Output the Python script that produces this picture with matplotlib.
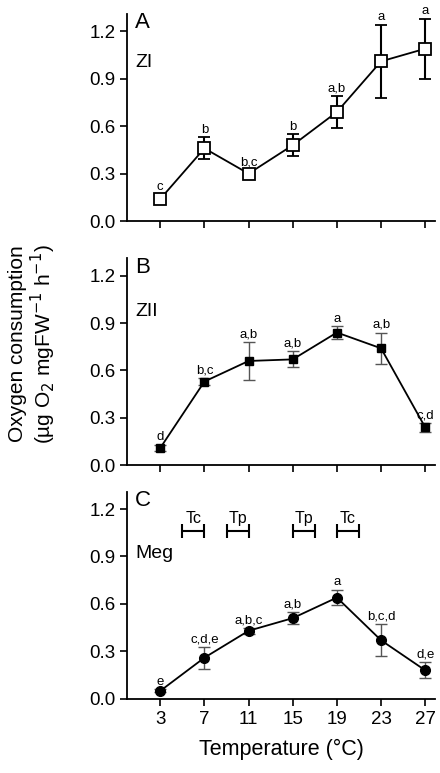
import matplotlib
matplotlib.use("Agg")
import matplotlib.pyplot as plt

plt.rcParams['font.family'] = ['Liberation Sans', 'DejaVu Sans']

temps = [3, 7, 11, 15, 19, 23, 27]

zi_mean = [0.14, 0.46, 0.30, 0.48, 0.69, 1.01, 1.09]
zi_err = [0.03, 0.07, 0.02, 0.07, 0.10, 0.23, 0.19]
zi_lab = ["c", "b", "b,c", "b", "a,b", "a", "a"]

zii_mean = [0.11, 0.53, 0.66, 0.67, 0.84, 0.74, 0.24]
zii_err = [0.02, 0.02, 0.12, 0.05, 0.04, 0.10, 0.03]
zii_lab = ["d", "b,c", "a,b", "a,b", "a", "a,b", "c,d"]

meg_mean = [0.05, 0.26, 0.43, 0.51, 0.64, 0.37, 0.18]
meg_err = [0.01, 0.07, 0.02, 0.04, 0.05, 0.10, 0.05]
meg_lab = ["e", "c,d,e", "a,b,c", "a,b", "a", "b,c,d", "d,e"]

ranges = [(5, 7, "Tc"), (9, 11, "Tp"), (15, 17, "Tp"), (19, 21, "Tc")]

fig = plt.figure(figsize=(4.4, 7.73), dpi=100)
bottoms = [0.714, 0.398, 0.096]
panels = [
    ("A", "ZI", 1.0, zi_mean, zi_err, zi_lab, "black", 1.5,
     dict(marker="s", mfc="white", ms=9, mew=1.3)),
    ("B", "ZII", 0.97, zii_mean, zii_err, zii_lab, "#555555", 1.0,
     dict(marker="s", mfc="black", ms=6)),
    ("C", "Meg", 0.92, meg_mean, meg_err, meg_lab, "#555555", 1.0,
     dict(marker="o", mfc="black", ms=7)),
]
axes = []
for b, (letter, name, ny, m, e, labs, ecol, elw, mk) in zip(bottoms, panels):
    ax = fig.add_axes([0.289, b, 0.70, 0.268])
    ax.errorbar(temps, m, yerr=e, color="black", lw=1.3, mec="black",
                ecolor=ecol, elinewidth=elw, capsize=4, capthick=elw, **mk)
    for t, v, er, l in zip(temps, m, e, labs):
        ax.text(t, v + er + 0.01, l, ha="center", va="bottom", fontsize=9.5)
    ax.set_xlim(0, 27.9)
    ax.set_ylim(0, 1.31)
    ax.set_yticks([0, 0.3, 0.6, 0.9, 1.2])
    ax.set_yticklabels(["0.0", "0.3", "0.6", "0.9", "1.2"])
    ax.set_xticks(temps)
    ax.spines[["top", "right"]].set_visible(False)
    ax.tick_params(labelsize=13.5, width=1.2, length=5)
    for s in ["left", "bottom"]:
        ax.spines[s].set_linewidth(1.3)
    ax.text(0.7, 1.32, letter, fontsize=16, va="top")
    ax.text(0.7, ny, name, fontsize=14, va="center")
    if letter != "C":
        ax.tick_params(axis="x", labelbottom=False)
    axes.append(ax)

axc = axes[2]
for x0, x1, lab in ranges:
    axc.errorbar([(x0 + x1) / 2], [1.06], xerr=[(x1 - x0) / 2], color="black",
                 lw=1.5, capsize=5, capthick=1.5)
    axc.text((x0 + x1) / 2, 1.09, lab, ha="center", va="bottom", fontsize=11.5)
axc.set_xlabel("Temperature (°C)", fontsize=15.5, labelpad=8)

fig.text(0.075, 0.555, "Oxygen consumption\n(µg O$_2$ mgFW$^{-1}$ h$^{-1}$)",
         rotation=90, ha="center", va="center", fontsize=15, linespacing=1.05)

fig.savefig("out.png", dpi=100)
